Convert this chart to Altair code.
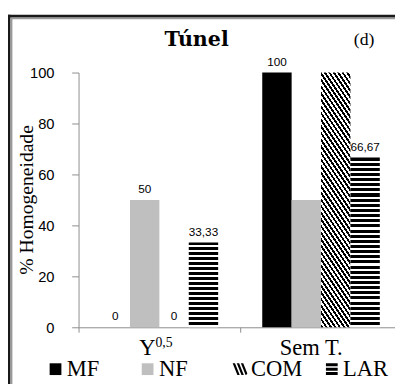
import altair as alt
import pandas as pd

# ---------------- data ----------------
categories = ["Y0,5", "Sem T."]
series = ["MF", "NF", "COM", "LAR"]
values_y05 = [0, 50, 0, 33.33]
values_semt = [100, 50, 100, 66.67]
show_label_y05 = [True, True, True, True]
show_label_semt = [True, False, False, True]
y_ticks = [0, 20, 40, 60, 80, 100]
x_label_main = ["Y", "Sem T."]
x_label_sup = ["0,5", ""]
title_text = "Túnel"
panel_tag = "(d)"
y_title = "% Homogeneidade"

rows = []
for cat, vals, shows in [(categories[0], values_y05, show_label_y05),
                         (categories[1], values_semt, show_label_semt)]:
    for s, v, sh in zip(series, vals, shows):
        rows.append({"category": cat, "series": s, "value": v, "show": sh})
df = pd.DataFrame(rows)
lab_df = pd.DataFrame({"category": categories, "main": x_label_main, "sup": x_label_sup})
one = pd.DataFrame({"k": [0]})

# ---------------- layout / style ----------------
W, H = 323, 260
X_RANGE = 330
BAR = 30.0
band = X_RANGE / len(categories)
po = (band / BAR - len(series)) / 2
GRAY = "#8c8c8c"
DARK = "#1a1a1a"
SERIF = "Liberation Serif"
SANS = "Liberation Sans"


def hstripes(h_px, period=5.2, frac=0.6):
    n = max(1, round(h_px / period))
    stops = []
    for i in range(n):
        a, b, c = i / n, (i + frac) / n, (i + 1) / n
        stops += [{"offset": a, "color": "black"}, {"offset": b, "color": "black"},
                  {"offset": b, "color": "white"}, {"offset": c, "color": "white"}]
    return {"gradient": "linear", "x1": 0, "y1": 0, "x2": 0, "y2": 1, "stops": stops}


def dstripes(w_px, h_px, k=1.5, period_h=4.5, frac=0.5):
    total = k * w_px + h_px
    n = max(1, round(total / (k * period_h)))
    alpha = total / (k * k * w_px * w_px + h_px * h_px)
    stops = []
    for i in range(n):
        a, b, c = i / n, (i + frac) / n, (i + 1) / n
        stops += [{"offset": a, "color": "black"}, {"offset": b, "color": "black"},
                  {"offset": b, "color": "white"}, {"offset": c, "color": "white"}]
    return {"gradient": "linear", "x1": 0, "y1": 1,
            "x2": alpha * k * w_px, "y2": 1 - alpha * h_px, "stops": stops}


x_enc = alt.X("category:N",
              scale=alt.Scale(domain=categories, range=[0, X_RANGE], paddingInner=0, paddingOuter=0),
              axis=alt.Axis(title=None, labels=False, tickBand="extent", tickSize=5,
                            tickColor=GRAY, domainColor=GRAY, grid=False))
xoff_enc = alt.XOffset("series:N", scale=alt.Scale(domain=series, paddingInner=0, paddingOuter=po))
y_enc = alt.Y("value:Q",
              scale=alt.Scale(domain=[0, 100], nice=False, zero=True),
              axis=alt.Axis(values=y_ticks, title=None,
                            labelFont=SANS, labelFontSize=15, labelColor="black", labelPadding=18,
                            tickSize=7, tickColor=GRAY, domainColor=GRAY, grid=False))

base = alt.Chart(df).encode(x=x_enc, xOffset=xoff_enc, y=y_enc)

layers = []
layers.append(base.transform_filter(alt.datum.series == "MF").mark_bar(fill="black"))
layers.append(base.transform_filter(alt.datum.series == "NF").mark_bar(fill="#bfbfbf"))
for r in rows:
    if r["value"] <= 0 or r["series"] not in ("COM", "LAR"):
        continue
    h_px = r["value"] / 100 * H
    fill = dstripes(BAR, h_px) if r["series"] == "COM" else hstripes(h_px)
    layers.append(base.transform_filter(
        (alt.datum.series == r["series"]) & (alt.datum.category == r["category"])
    ).mark_bar(fill=fill))

# value labels
layers.append(base.transform_filter(alt.datum.show).transform_calculate(
    lbl="replace(toString(datum.value), '.', ',')"
).mark_text(font=SANS, fontSize=12, baseline="bottom", dy=-4, color="black").encode(text="lbl:N"))

# legend via invisible points with custom symbol shapes
sq = "M-1,-1H1V1H-1Z"
diag = ("M-1.2,-1L-0.8,-1L0,1L-0.4,1Z M-0.5,-1L-0.1,-1L0.7,1L0.3,1Z "
        "M0.2,-1L0.6,-1L1.3,0.75L1.1,1L1,1Z")
lines3 = "M-1,-1H1V-0.5H-1Z M-1,-0.25H1V0.25H-1Z M-1,0.5H1V1H-1Z"
leg = dict(orient="none", legendX=-35, legendY=291, direction="horizontal", columns=4,
           gridAlign="all", columnPadding=18, symbolSize=144, symbolStrokeWidth=0,
           labelFont=SERIF, labelFontSize=23, labelColor="black", labelOffset=0,
           title=None, padding=0, symbolOpacity=1)
layers.append(base.mark_point(filled=True, size=144, opacity=0).encode(
    color=alt.Color("series:N", scale=alt.Scale(domain=series, range=["black", "#bfbfbf", "black", "black"]),
                    legend=alt.Legend(**leg)),
    shape=alt.Shape("series:N", scale=alt.Scale(domain=series, range=[sq, sq, diag, lines3]),
                    legend=alt.Legend(**leg)),
))

# x-axis category labels (with superscript)
lab = alt.Chart(lab_df).encode(x=x_enc)
layers.append(lab.transform_filter(alt.datum.category == categories[0]).mark_text(
    font=SERIF, fontSize=23, align="right", baseline="alphabetic", dx=-4, color="black"
).encode(text="main:N", y=alt.value(288)))
layers.append(lab.transform_filter(alt.datum.category == categories[0]).mark_text(
    font=SERIF, fontSize=14, align="left", baseline="alphabetic", dx=-4, color="black"
).encode(text="sup:N", y=alt.value(280)))
layers.append(lab.transform_filter(alt.datum.category == categories[1]).mark_text(
    font=SERIF, fontSize=23, align="center", baseline="alphabetic", dx=-10, color="black"
).encode(text="main:N", y=alt.value(288)))

# y-axis title, chart title and panel tag
layers.append(alt.Chart(one).mark_text(text=y_title, font=SERIF, fontSize=20, angle=270,
                                       align="center", baseline="middle", color="black")
              .encode(x=alt.value(-52), y=alt.value(H / 2)))
layers.append(alt.Chart(one).mark_text(text=title_text, font="DejaVu Serif", fontSize=21, fontWeight="bold",
                                       align="center", baseline="alphabetic", color="black")
              .encode(x=alt.value(120.5), y=alt.value(-27)))
layers.append(alt.Chart(one).mark_text(text=panel_tag, font=SERIF, fontSize=18,
                                       align="center", baseline="alphabetic", color="black")
              .encode(x=alt.value(291.5), y=alt.value(-28)))

# frame
layers.append(alt.Chart(one).mark_rule(color=DARK, strokeWidth=3)
              .encode(x=alt.value(-71), y=alt.value(-59), y2=alt.value(320)))
layers.append(alt.Chart(one).mark_rule(color="#9a9a9a", strokeWidth=2)
              .encode(x=alt.value(-68.5), y=alt.value(-56), y2=alt.value(320)))
layers.append(alt.Chart(one).mark_rule(color=DARK, strokeWidth=3)
              .encode(y=alt.value(-57.5), x=alt.value(-72.5), x2=alt.value(330)))
layers.append(alt.Chart(one).mark_rule(color="#9a9a9a", strokeWidth=2)
              .encode(y=alt.value(-55.5), x=alt.value(-69.5), x2=alt.value(330)))

chart = alt.layer(*layers).properties(
    width=W, height=H,
    autosize=alt.AutoSizeParams(type="none"),
    padding={"left": 72, "top": 62, "right": 0, "bottom": 54},
).configure_view(strokeWidth=0)

chart.save("out.html", embed_options={"renderer": "svg", "actions": False})
